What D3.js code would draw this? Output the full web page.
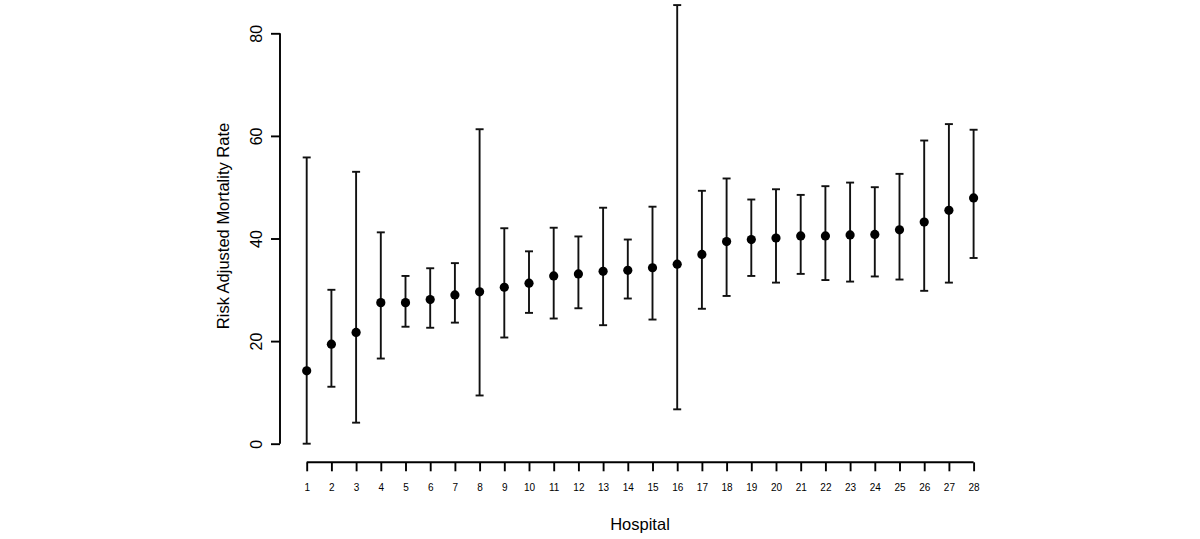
<!DOCTYPE html>
<html>
<head>
<meta charset="utf-8">
<script src="https://cdn.jsdelivr.net/npm/d3@7"></script>
<style>
  body { margin: 0; background: #fff; }
  text { font-family: "Liberation Sans", Arial, Helvetica, sans-serif; fill: #000; }
</style>
</head>
<body>
<div id="chart"></div>
<script>
const width = 1200;
const height = 539;

// hospital numbers, point estimates and interval ends
const hospitals = d3.range(1, 29);
const rates = [14.2, 19.4, 21.7, 27.5, 27.5, 28.1, 29.0, 29.6, 30.5, 31.3,
               32.7, 33.1, 33.6, 33.8, 34.3, 35.0, 36.9, 39.4, 39.8, 40.1,
               40.5, 40.5, 40.7, 40.8, 41.7, 43.2, 45.5, 47.9];
const lower = [0.0, 11.1, 4.1, 16.6, 22.8, 22.6, 23.6, 9.4, 20.7, 25.5,
               24.4, 26.4, 23.1, 28.3, 24.2, 6.7, 26.3, 28.8, 32.7, 31.4,
               33.1, 31.9, 31.6, 32.6, 32.0, 29.8, 31.4, 36.2];
const upper = [55.8, 30.0, 53.0, 41.2, 32.7, 34.2, 35.2, 61.3, 42.0, 37.5,
               42.1, 40.4, 46.0, 39.8, 46.2, 85.5, 49.3, 51.7, 47.6, 49.6,
               48.5, 50.2, 50.9, 50.0, 52.6, 59.1, 62.3, 61.2];
const yTicks = [0, 20, 40, 60, 80];

const data = hospitals.map((h, i) => ({h: h, rate: rates[i], lo: lower[i], hi: upper[i]}));

const svg = d3.select("#chart")
  .append("svg")
  .attr("width", width)
  .attr("height", height);

const x = d3.scaleLinear().domain([1, 28]).range([306.7, 973.6]);
const y = d3.scaleLinear().domain([0, 80]).range([443.7, 33.3]);

// y axis (R style, detached)
const yAxis = svg.append("g")
  .attr("transform", "translate(280,0)")
  .call(d3.axisLeft(y).tickValues(yTicks).tickSize(9).tickPadding(0).tickFormat(d3.format("d")));
yAxis.select(".domain").attr("stroke-width", 1.9).attr("d", `M0,${y(0)}V${y(80)}`);
yAxis.selectAll(".tick line").attr("stroke-width", 1.9);
yAxis.selectAll(".tick text")
  .attr("x", 0).attr("y", 0).attr("dy", 0)
  .attr("transform", "translate(-18,0) rotate(-90)")
  .attr("text-anchor", "middle")
  .style("font-size", "16px");

// x axis
const xAxis = svg.append("g")
  .attr("transform", "translate(0,462.3)")
  .call(d3.axisBottom(x).tickValues(hospitals).tickSize(9).tickPadding(0).tickFormat(d3.format("d")));
xAxis.select(".domain").attr("stroke-width", 1.9).attr("d", `M${x(1)},0H${x(28)}`);
xAxis.selectAll(".tick line").attr("stroke-width", 1.9);
xAxis.selectAll(".tick text")
  .attr("y", 29).attr("dy", 0)
  .style("font-size", "10px");

svg.selectAll("text").attr("font-family", null);

// error bars
const bars = svg.append("g").attr("class", "bars");
const cap = 4;

bars.selectAll("line.whisker")
  .data(data)
  .join("line")
  .attr("class", "whisker")
  .attr("x1", d => x(d.h)).attr("x2", d => x(d.h))
  .attr("y1", d => y(d.lo)).attr("y2", d => y(d.hi))
  .attr("stroke", "#111").attr("stroke-width", 1.9);

bars.selectAll("line.capHi")
  .data(data)
  .join("line")
  .attr("class", "capHi")
  .attr("x1", d => x(d.h) - cap).attr("x2", d => x(d.h) + cap)
  .attr("y1", d => y(d.hi)).attr("y2", d => y(d.hi))
  .attr("stroke", "#111").attr("stroke-width", 1.9);

bars.selectAll("line.capLo")
  .data(data)
  .join("line")
  .attr("class", "capLo")
  .attr("x1", d => x(d.h) - cap).attr("x2", d => x(d.h) + cap)
  .attr("y1", d => y(d.lo)).attr("y2", d => y(d.lo))
  .attr("stroke", "#111").attr("stroke-width", 1.9);

bars.selectAll("circle")
  .data(data)
  .join("circle")
  .attr("cx", d => x(d.h))
  .attr("cy", d => y(d.rate))
  .attr("r", 4.6)
  .attr("fill", "#000");

// axis titles
svg.append("text")
  .attr("transform", "translate(229,226) rotate(-90)")
  .attr("text-anchor", "middle")
  .style("font-size", "16.5px")
  .text("Risk Adjusted Mortality Rate");

svg.append("text")
  .attr("x", 640)
  .attr("y", 530)
  .attr("text-anchor", "middle")
  .style("font-size", "16.5px")
  .text("Hospital");
</script>
</body>
</html>
